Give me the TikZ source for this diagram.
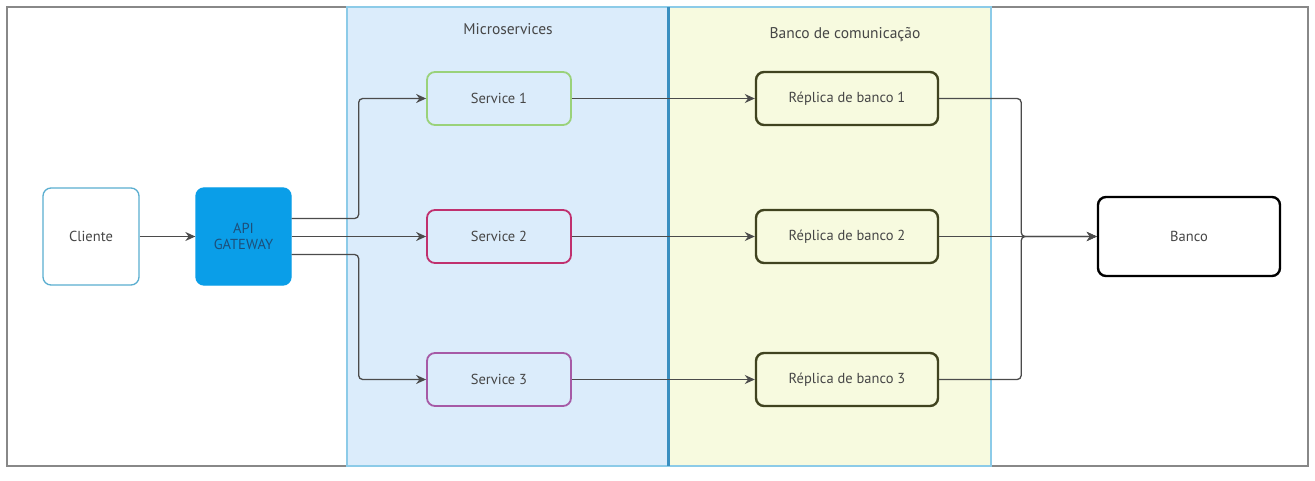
\documentclass[tikz,border=0pt]{standalone}
\usepackage{fontspec}
\setmainfont{PT Sans}
\usetikzlibrary{arrows.meta}

\definecolor{laneblue}{RGB}{219,236,251}
\definecolor{laneyellow}{RGB}{247,250,223}
\definecolor{laneline}{RGB}{140,203,232}
\definecolor{lanediv}{RGB}{58,143,192}
\definecolor{clientline}{RGB}{90,174,208}
\definecolor{apifill}{RGB}{10,158,232}
\definecolor{apitext}{RGB}{29,79,122}
\definecolor{svcgreen}{RGB}{154,210,122}
\definecolor{svcmagenta}{RGB}{192,48,110}
\definecolor{svcpurple}{RGB}{166,90,166}
\definecolor{repline}{RGB}{64,67,31}
\definecolor{connline}{RGB}{75,75,75}
\definecolor{txtgray}{RGB}{70,70,70}

\tikzset{every picture/.style={line width=0.75pt}}
\tikzset{
  box/.style={draw, rounded corners=8pt, align=center, inner sep=0pt, font=\fontsize{14.5}{16}\selectfont, text=txtgray},
  svcbox/.style={box, line width=1.8pt, fill=laneblue, minimum width=144pt, minimum height=53pt},
  repbox/.style={box, draw=repline, line width=2.4pt, fill=laneyellow, minimum width=182pt, minimum height=53pt},
  conn/.style={draw=connline, line width=1.3pt, rounded corners=4pt, -{Stealth[length=10pt,width=9pt]}},
  lanetitle/.style={font=\fontsize{15.5}{17}\selectfont, text=txtgray}
}

\begin{document}
\begin{tikzpicture}[x=1pt,y=1pt,yscale=-1,xscale=1]
\useasboundingbox (0,0) rectangle (1315,481);

%Outer frame
\draw [draw={rgb,255:red,136;green,136;blue,136}, line width=1.5pt, fill=white] (7,7) rectangle (1308,466) ;
%Lanes
\draw [draw=laneline, line width=1.5pt, fill=laneblue] (347,7) rectangle (668,466) ;
\draw [draw=laneline, line width=1.5pt, fill=laneyellow] (669,7) rectangle (991,466) ;
\draw [draw=lanediv, line width=2.5pt] (668.5,7) -- (668.5,466) ;

% Lane titles
\node [lanetitle] (tmicro) at (508,29) {Microservices};
\node [lanetitle] (tbanco) at (845,35) {Banco de comunicação};

% Nodes
\node [box, draw=clientline, line width=1.3pt, fill=white, minimum width=96pt, minimum height=97pt] (cliente) at (91,236.5) {Cliente};
\node [box, draw=apifill, fill=apifill, text=apitext, line width=1.3pt, minimum width=95pt, minimum height=97pt] (api) at (243.5,236.5) {API\\GATEWAY};

\node [svcbox, draw=svcgreen] (s1) at (499,98.5) {Service 1};
\node [svcbox, draw=svcmagenta] (s2) at (499,236.5) {Service 2};
\node [svcbox, draw=svcpurple] (s3) at (499,379.5) {Service 3};

\node [repbox] (r1) at (847,98.5) {Réplica de banco 1};
\node [repbox] (r2) at (847,236.5) {Réplica de banco 2};
\node [repbox] (r3) at (847,379.5) {Réplica de banco 3};

\node [box, draw=black, line width=2.4pt, fill=white, minimum width=182pt, minimum height=79pt] (banco) at (1189,236.5) {Banco};

% Connectors
\draw [conn] (cliente) -- (api) ;
\draw [conn] ([yshift=-18pt]api.east) -- ++(67,0) |- (s1.west) ;
\draw [conn] (api.east) -- (s2.west) ;
\draw [conn] ([yshift=18pt]api.east) -- ++(67,0) |- (s3.west) ;

\draw [conn] (s1) -- (r1) ;
\draw [conn] (s2) -- (r2) ;
\draw [conn] (s3) -- (r3) ;

\draw [conn] (r1.east) -- ++(82,0) |- (banco.west) ;
\draw [conn] (r2.east) -- (banco.west) ;
\draw [conn] (r3.east) -- ++(82,0) |- (banco.west) ;

\end{tikzpicture}
\end{document}
